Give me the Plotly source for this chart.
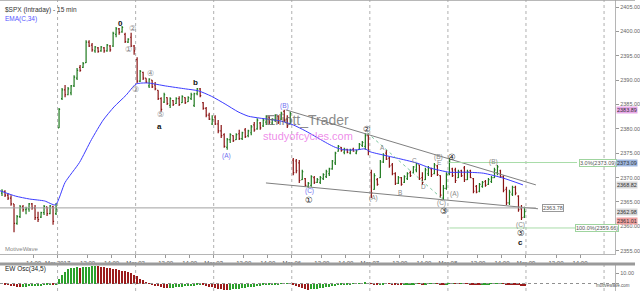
import plotly.graph_objects as go

# ---------------- data ----------------
# 15-min bars (open, high, low, close); Feb 28 partial session, then full sessions of 26 bars
feb28 = [(2366.8,2367.6,2366.2,2367.2),(2367.2,2367.4,2366.0,2366.4),(2366.4,2366.8,2365.4,2365.8),
         (2365.8,2366.4,2364.2,2364.6),(2364.6,2364.6,2358.8,2360.6),(2360.6,2362.3,2360.3,2362.0),
         (2362.0,2364.4,2361.7,2364.0),(2364.0,2364.4,2363.0,2363.4),(2363.4,2364.0,2362.5,2363.6),
         (2363.6,2364.8,2363.0,2364.6),(2364.6,2364.8,2363.4,2363.8),(2363.8,2364.4,2361.3,2361.8),
         (2361.8,2363.0,2360.9,2361.4),(2361.9,2363.0,2361.7,2362.8),(2362.8,2364.4,2362.3,2364.1),
         (2364.0,2364.0,2362.1,2362.6),(2362.6,2364.4,2362.5,2364.2),(2364.0,2364.2,2360.3,2361.0),
         (2362.6,2364.8,2362.3,2363.6)]
mar01 = [(2380.2,2384.3,2380.2,2384.0),(2386.2,2388.4,2385.9,2388.0),(2388.0,2389.0,2386.5,2387.0),
         (2387.0,2388.6,2386.9,2388.2),(2387.4,2389.0,2386.9,2388.8),(2388.8,2391.0,2388.6,2390.6),
         (2390.4,2392.5,2390.0,2392.0),(2392.6,2393.1,2391.7,2392.0),(2392.6,2393.7,2392.5,2393.4),
         (2393.6,2398.2,2393.5,2397.8),(2397.8,2398.2,2396.8,2397.0),(2397.2,2397.6,2395.8,2396.2),
         (2396.0,2397.0,2395.6,2396.8),(2396.6,2396.8,2395.6,2395.9),(2396.0,2397.0,2395.8,2396.8),
         (2396.6,2396.8,2395.6,2396.0),(2396.0,2397.4,2395.8,2397.2),(2397.0,2397.2,2395.8,2396.2),
         (2397.0,2399.9,2396.8,2399.6),(2399.4,2400.9,2398.8,2400.5),(2400.5,2400.7,2399.3,2399.8),
         (2399.9,2401.1,2399.7,2400.8),(2399.4,2399.7,2397.6,2397.9),(2397.8,2398.6,2397.6,2398.4),
         (2398.8,2399.7,2396.8,2397.0),(2397.0,2397.2,2395.2,2396.0)]
mar02 = [(2394.2,2394.7,2389.4,2389.8),(2389.8,2392.1,2389.6,2391.8),(2391.6,2391.7,2390.0,2390.4),
         (2390.4,2390.4,2389.4,2389.6),(2388.8,2390.4,2388.4,2390.2),(2390.0,2390.0,2388.4,2388.6),
         (2389.0,2389.6,2387.9,2388.2),(2387.9,2387.9,2385.9,2386.2),(2386.2,2386.5,2383.5,2384.0),
         (2385.5,2387.4,2385.3,2387.0),(2386.4,2386.5,2384.9,2385.2),(2384.8,2386.5,2384.3,2386.2),
         (2385.8,2385.9,2384.7,2385.0),(2385.2,2386.5,2385.1,2386.2),(2386.2,2386.7,2384.7,2385.0),
         (2385.4,2386.9,2385.3,2386.6),(2386.4,2386.5,2385.1,2385.4),(2385.6,2386.7,2385.5,2386.4),
         (2386.2,2387.4,2385.9,2387.0),(2384.8,2387.4,2384.5,2387.2),(2387.2,2388.4,2386.9,2388.2),
         (2388.2,2388.4,2386.5,2386.8),(2385.4,2385.5,2383.9,2384.2),(2384.2,2384.5,2382.4,2382.8),
         (2382.8,2383.3,2381.8,2382.0),(2381.0,2382.8,2380.8,2381.9)]
mar03 = [(2382.4,2382.8,2380.8,2381.0),(2381.0,2381.8,2379.1,2379.6),(2379.6,2380.8,2378.1,2378.6),
         (2378.8,2379.1,2376.1,2376.4),(2376.2,2378.1,2375.7,2377.8),(2377.8,2379.1,2377.1,2378.8),
         (2378.6,2378.7,2377.3,2377.6),(2377.8,2379.1,2377.7,2378.8),(2379.0,2379.8,2377.7,2378.0),
         (2378.0,2379.4,2377.7,2379.2),(2379.8,2380.2,2378.1,2378.4),(2378.6,2379.8,2378.3,2379.6),
         (2379.2,2380.8,2378.7,2380.4),(2380.8,2381.4,2379.4,2379.8),(2380.0,2382.2,2379.8,2381.8),
         (2381.2,2381.4,2379.8,2380.2),(2380.6,2382.2,2380.4,2381.8),(2381.4,2382.8,2380.8,2382.6),
         (2382.4,2382.6,2381.0,2381.4),(2381.2,2382.2,2380.8,2382.0),(2381.8,2383.0,2381.4,2382.8),
         (2382.6,2382.8,2381.0,2381.4),(2382.0,2383.5,2381.8,2383.2),(2383.6,2383.9,2381.4,2381.8),
         (2382.0,2382.8,2380.2,2380.6),(2381.0,2383.5,2381.0,2383.1)]
mar06 = [(2373.6,2374.0,2370.5,2371.0),(2373.4,2373.8,2370.9,2371.4),(2373.0,2373.6,2368.9,2369.4),
         (2369.6,2371.6,2369.5,2371.2),(2369.8,2369.9,2368.1,2368.4),(2368.2,2369.1,2367.9,2368.8),
         (2368.4,2370.5,2368.1,2370.2),(2370.0,2370.3,2368.7,2369.0),(2369.0,2369.9,2368.9,2369.6),
         (2369.0,2370.3,2368.7,2370.0),(2369.8,2370.9,2369.5,2370.6),(2370.2,2371.6,2369.9,2371.2),
         (2370.8,2372.0,2370.3,2371.8),(2371.8,2373.6,2371.6,2373.4),(2373.0,2375.3,2372.6,2375.0),
         (2375.4,2376.7,2375.3,2376.4),(2376.2,2376.3,2375.3,2375.6),(2375.2,2376.1,2374.8,2375.8),
         (2375.8,2375.9,2375.0,2375.2),(2375.0,2375.9,2374.8,2375.6),(2375.8,2376.1,2375.3,2375.4),
         (2375.0,2375.7,2374.8,2375.5),(2375.8,2377.1,2375.7,2376.8),(2376.6,2377.5,2376.3,2377.2),
         (2376.4,2379.1,2375.7,2378.6),(2378.6,2379.1,2374.6,2375.3)]
mar07 = [(2371.0,2371.6,2365.8,2366.8),(2367.6,2370.9,2367.5,2370.4),(2369.6,2369.9,2368.3,2368.6),
         (2370.0,2373.6,2369.9,2373.2),(2373.2,2375.0,2373.0,2374.6),(2375.0,2375.7,2373.6,2373.8),
         (2374.0,2374.2,2372.0,2372.4),(2372.6,2373.0,2370.5,2370.8),(2370.8,2371.1,2368.5,2368.8),
         (2368.8,2370.3,2368.7,2370.0),(2370.0,2370.1,2368.3,2368.6),(2369.0,2370.5,2368.9,2370.2),
         (2369.8,2371.1,2369.5,2370.8),(2371.0,2371.4,2370.1,2370.4),(2371.0,2372.4,2370.9,2372.2),
         (2371.6,2373.0,2371.1,2372.8),(2372.6,2372.6,2369.5,2369.8),(2370.0,2371.1,2368.5,2369.0),
         (2369.6,2372.0,2369.5,2371.6),(2370.8,2372.4,2370.3,2372.0),(2371.8,2372.0,2370.1,2370.6),
         (2370.8,2373.0,2370.7,2372.6),(2372.4,2372.6,2370.3,2370.6),(2370.4,2370.5,2365.8,2366.4),
         (2365.8,2368.5,2365.4,2367.8),(2367.8,2371.1,2367.5,2370.6)]
mar08 = [(2370.8,2374.0,2370.5,2373.4),(2371.8,2372.0,2370.1,2370.4),(2371.6,2372.0,2368.9,2369.4),
         (2370.0,2371.6,2369.9,2371.2),(2371.4,2371.6,2370.1,2370.4),(2372.0,2372.4,2369.1,2369.6),
         (2369.6,2371.6,2369.5,2371.2),(2371.4,2371.6,2369.9,2370.0),(2369.8,2369.9,2366.8,2367.2),
         (2368.2,2368.5,2366.8,2367.0),(2367.2,2368.9,2367.0,2368.6),(2368.2,2369.3,2367.9,2369.0),
         (2369.2,2369.5,2368.1,2368.4),(2368.6,2369.9,2368.5,2369.6),(2369.2,2370.3,2368.9,2370.0),
         (2370.0,2372.0,2369.9,2371.6),(2371.0,2372.6,2370.5,2372.2),(2371.4,2371.6,2369.9,2370.2),
         (2370.2,2370.5,2367.0,2367.4),(2367.6,2368.1,2364.4,2364.8),(2364.8,2367.5,2364.4,2367.0),
         (2366.6,2368.3,2366.2,2368.0),(2368.0,2368.3,2366.4,2366.8),(2366.2,2366.4,2363.0,2363.4),
         (2363.6,2364.4,2361.3,2361.8),(2361.9,2364.0,2361.7,2363.0)]
sessions = [feb28, mar01, mar02, mar03, mar06, mar07, mar08]

# EMA(C,34) read at sample bar positions (bar number from Mar 01 open)
ema_bar = [-19.7, -14.5, -9.8, -4.8, -1.2, 2, 6.8, 10.8, 14.7, 18.3, 22.3, 25.6, 27.6, 29.9, 35.5, 42.1,
           46.4, 50.7, 55.3, 59.6, 63, 66.9, 73.9, 78, 82, 86, 89.4, 92, 95, 99.3, 101.9, 103.6, 108.2,
           112.5, 119.1, 123.4, 130, 135.7, 141.3, 147.9, 154.5]
ema_val = [2367.3, 2366.2, 2365.6, 2365.2, 2364.4, 2369.0, 2373.1, 2377.8, 2381.8, 2384.5, 2386.9,
           2389.2, 2389.4, 2389.4, 2388.8, 2388.2, 2387.8, 2386.7, 2385.1, 2383.5, 2382.6, 2382.2,
           2381.6, 2380.8, 2379.6, 2378.2, 2377.0, 2376.2, 2375.7, 2375.7, 2375.9, 2375.3, 2374.6,
           2374.0, 2373.0, 2372.0, 2371.1, 2371.1, 2370.9, 2369.9, 2368.5]

# EW Osc(34,5) per bar
osc_feb28 = [-0.4,-0.8,-1.4,-2.0,-2.8,-3.5,-3.6,-3.3,-3.0,-2.7,-2.4,-2.2,-2.2,-2.1,-1.9,-1.8,-1.7,-1.8,-1.6]
osc_mar01 = [4.9,8.4,11.6,14.2,15.6,16.0,16.1,15.9,16.3,16.7,17.0,17.4,17.8,17.4,17.0,16.4,15.8,15.1,
             14.9,14.4,13.7,13.0,12.3,11.3,10.2,8.9]
osc_mar02 = [7.2,4.8,3.1,1.4,-0.3,-1.2,-2.0,-2.8,-3.5,-4.0,-4.3,-4.2,-4.0,-3.8,-3.5,-3.2,-2.9,-2.6,
             -2.3,-2.0,-1.7,-1.5,-1.7,-2.3,-3.0,-3.8]
osc_mar03 = [-4.6,-5.2,-5.8,-6.3,-6.5,-6.2,-5.8,-5.4,-5.0,-4.6,-4.2,-3.8,-3.4,-3.0,-2.6,-2.2,-1.9,
             -1.6,-1.3,-1.0,-0.8,-0.6,-0.4,-0.2,0.1,0.4]
osc_mar06 = [-1.2,-2.5,-3.8,-4.8,-5.6,-6.0,-5.8,-5.4,-5.0,-4.6,-4.2,-3.8,-3.4,-2.9,-2.4,-1.9,-1.5,
             -1.2,-0.9,-0.7,-0.5,-0.3,-0.1,0.2,0.6,0.4]
osc_mar07 = [-0.3,-0.8,-1.2,-1.0,-0.6,-0.3,-0.4,-0.6,-0.9,-1.2,-1.4,-1.3,-1.1,-0.9,-0.6,-0.4,-0.5,
             -0.7,-0.6,-0.4,-0.3,-0.2,-0.3,-0.7,-1.1,-0.9]
osc_mar08 = [-0.5,-0.2,-0.3,-0.4,-0.3,-0.4,-0.5,-0.6,-0.9,-1.2,-1.3,-1.2,-1.0,-0.8,-0.5,-0.2,0.2,0.3,
             -0.1,-0.6,-1.0,-1.3,-1.5,-1.9,-2.4,-2.6]
osc_sessions = [osc_feb28, osc_mar01, osc_mar02, osc_mar03, osc_mar06, osc_mar07, osc_mar08]

day_ticks = ["Mar 2017", "Mar 02", "Mar 03", "Mar 06", "Mar 07", "Mar 08", "Mar 09"]
hour_ticks = ["12:00", "14:00"]
price_ticks = [2355, 2360, 2365, 2370, 2375, 2380, 2385, 2390, 2395, 2400, 2405]

# wave labels: (text, bar, price, kind)
wave_labels = [
    ("0", 20.6, 2401.6, "bold"), ("\u2460", 23.2, 2396.3, "gray"), ("\u2461", 24.3, 2400.5, "gray"),
    ("\u2462", 25.6, 2388.0, "gray"), ("\u2463", 30.6, 2391.3, "gray"), ("\u2464", 33.9, 2383.0, "gray"),
    ("a", 33.5, 2380.4, "bold"), ("b", 45.4, 2389.6, "bold"),
    ("(A)", 55.7, 2374.5, "blue"), ("(B)", 75.2, 2384.7, "blue"), ("(C)", 83.4, 2367.2, "blue"),
    ("\u2460", 83.4, 2365.4, "circ"), ("\u2461", 102.6, 2380.0, "circ"),
    ("(A)", 104.6, 2365.9, "small"), ("A", 107.6, 2376.1, "small"), ("B", 113.5, 2367.0, "small"),
    ("C", 118.5, 2373.6, "small"), ("D", 121.4, 2368.1, "small"), ("(B)", 126.4, 2374.3, "small"),
    ("E", 126.7, 2373.0, "small"), ("\u2463", 130.7, 2374.3, "circ"),
    ("(C)", 127.4, 2364.8, "small"), ("\u2462", 128.1, 2363.1, "circ"), ("(A)", 131.7, 2366.6, "small"),
    ("(B)", 144.6, 2373.1, "small"), ("(C)", 153.8, 2360.3, "small"), ("\u2464", 153.8, 2358.7, "circ"),
    ("c", 153.8, 2356.6, "bold"),
]

# trend lines (bar, price) pairs and levels
upper_line = [(75.5, 2383.9), (158.8, 2368.5)]
lower_line = [(68.9, 2368.9), (159.5, 2363.6)]
ab_line = [(102.6, 2379.2), (128.1, 2365.4)]
level_line = 2363.78
fib_levels = [(2373.09, "3.0%(2373.09)"), (2359.66, "100.0%(2359.66)")]
axis_tags = [(2383.89, "2383.89", "#e8a8e8"), (2373.09, "2373.09", "#9fb8e0"),
             (2368.5, "2368.82", "#d8d8d8"), (2363.0, "2362.98", "#d8d8d8"),
             (2361.01, "2361.01", "#f0a0a0")]

# ---------------- build ----------------
GREEN = "#1f7a1f"
RED = "#8a1414"
FONT = "Liberation Sans"

xs, o, h, l, c = [], [], [], [], []
start = -len(feb28)
for si, sess in enumerate(sessions):
    base = start if si == 0 else (si - 1) * 26
    for k, (oo, hh, ll, cc) in enumerate(sess):
        xs.append(base + k); o.append(oo); h.append(hh); l.append(ll); c.append(cc)

osc_x, osc_y = [], []
for si, sess in enumerate(osc_sessions):
    base = start if si == 0 else (si - 1) * 26
    for k, v in enumerate(sess):
        osc_x.append(base + k); osc_y.append(v)
osc_col = ["#2ca02c" if i == 0 or osc_y[i] >= osc_y[i - 1] else "#9b1c1c" for i in range(len(osc_y))]

X0, X1 = -19.67, 185.2
Y0, Y1 = 2354.32, 2406.44
fig = go.Figure()

fig.add_trace(go.Ohlc(x=xs, open=o, high=h, low=l, close=c, xaxis="x", yaxis="y",
                      increasing=dict(line=dict(color=GREEN, width=1.2)),
                      decreasing=dict(line=dict(color=RED, width=1.2)),
                      tickwidth=0.35, showlegend=False, hoverinfo="skip"))
fig.add_trace(go.Scatter(x=ema_bar, y=ema_val, mode="lines", xaxis="x", yaxis="y",
                         line=dict(color="#3b3bff", width=1, shape="spline", smoothing=0.6),
                         showlegend=False, hoverinfo="skip"))
fig.add_trace(go.Bar(x=osc_x, y=osc_y, marker=dict(color=osc_col, line=dict(width=0)), width=0.75,
                     xaxis="x2", yaxis="y2", showlegend=False, hoverinfo="skip"))

for ln, col, dash, w in [(upper_line, "#808080", "solid", 1), (lower_line, "#808080", "solid", 1),
                         (ab_line, "#7fc7a0", "dot", 1)]:
    fig.add_trace(go.Scatter(x=[p[0] for p in ln], y=[p[1] for p in ln], mode="lines",
                             line=dict(color=col, width=w, dash=dash), xaxis="x", yaxis="y",
                             showlegend=False, hoverinfo="skip"))

shapes = []
for d in range(-1, 9):
    xv = d * 26 - 0.5
    if X0 < xv < X1:
        for yr in ("y domain", "y2 domain"):
            shapes.append(dict(type="line", xref="x", yref=yr, x0=xv, x1=xv, y0=0, y1=1,
                               line=dict(color="#b0b0b0", width=1, dash="dot"), layer="below"))
shapes.append(dict(type="line", xref="x", yref="y", x0=X0, x1=158.8, y0=level_line, y1=level_line,
                   line=dict(color="#a0a0a0", width=1)))
for lv, _ in fib_levels:
    shapes.append(dict(type="line", xref="x", yref="y", x0=130.0, x1=172.5, y0=lv, y1=lv,
                       line=dict(color="#a8dca8", width=1)))
shapes.append(dict(type="line", xref="x2", yref="y2", x0=X0, x1=X1, y0=0, y1=0,
                   line=dict(color="#909090", width=1, dash="dot")))
shapes.append(dict(type="rect", xref="paper", yref="paper", x0=0, x1=1, y0=1 - 262.5 / 291, y1=1 - 265.5 / 291,
                   fillcolor="#9a9a9a", line=dict(width=0)))
shapes.append(dict(type="line", xref="paper", yref="paper", x0=0, x1=1, y0=1, y1=1,
                   line=dict(color="#a0a0a0", width=1.5)))

ann = []
def add(text, x, y, size=6, color="#333", xref="x", yref="y", family=FONT, **kw):
    d = dict(text=text, x=x, y=y, xref=xref, yref=yref, showarrow=False,
             font=dict(family=family, size=size, color=color))
    d.update(kw)
    ann.append(d)

styles = {"bold": dict(size=8, color="#111"), "gray": dict(size=8, color="#8a8a8a"),
          "blue": dict(size=6.5, color="#6f6ff0"), "circ": dict(size=8.5, color="#222"),
          "small": dict(size=6.5, color="#8a8a8a")}
for t, bx, py, kind in wave_labels:
    st = styles[kind]
    txt = "<b>%s</b>" % t if kind == "bold" else t
    add(txt, bx, py, size=st["size"], color=st["color"],
        family="DejaVu Sans" if kind in ("gray", "circ") else FONT)

add("2363.78", 164.4, level_line, size=5.5, color="#555", bordercolor="#999", borderwidth=1, borderpad=0,
    bgcolor="white")
add(fib_levels[0][1], 179.5, fib_levels[0][0], size=5.5, color="#555", bordercolor="#9fd49f", borderwidth=1,
    borderpad=0, bgcolor="white")
add(fib_levels[1][1], 179.0, fib_levels[1][0], size=5.5, color="#555", bordercolor="#9fd49f", borderwidth=1,
    borderpad=0, bgcolor="white")

# watermark
add("Elliott_Trader", 82.8, 2381.8, size=14, color="rgba(110,110,110,0.8)")
add("studyofcycles.com", 82.8, 2378.6, size=11, color="rgba(235,120,230,0.85)")

add("$SPX (Intraday) - 15 min", 0.005, 0.985, size=6.5, color="#333", xref="paper", yref="paper",
    xanchor="left", yanchor="top")
add("EMA(C,34)", 0.005, 0.955, size=6.5, color="#5555ff", xref="paper", yref="paper",
    xanchor="left", yanchor="top")
add("MotiveWave", 0.005, 1 - 249 / 291, size=6, color="#888", xref="paper", yref="paper",
    xanchor="left", yanchor="middle")
add("EW Osc(34,5)", 0.005, 1 - 268.5 / 291, size=6.5, color="#222", xref="paper", yref="paper",
    xanchor="left", yanchor="middle")
add("motivewave.com", 0.995, 0.002, size=4.5, color="#555", xref="paper", yref="paper",
    xanchor="right", yanchor="bottom")
for val, txt, bg in axis_tags:
    add(txt, 0.9703, val, size=5.5, color="#333", xref="paper", yref="y", xanchor="left",
        bgcolor=bg, borderpad=0)

tickvals, ticktext = [], []
tickvals.append(-26 + 17.5); ticktext.append("14:00")
for d, lab in enumerate(day_ticks):
    tickvals.append(d * 26 - 0.5); ticktext.append(lab)
    tickvals.append(d * 26 + 9.5); ticktext.append(hour_ticks[0])
    tickvals.append(d * 26 + 17.5); ticktext.append(hour_ticks[1])

dom_x = [0, 620 / 640]
fig.update_layout(
    width=640, height=291, margin=dict(l=0, r=0, t=0, b=0),
    paper_bgcolor="white", plot_bgcolor="white",
    font=dict(family=FONT, size=6, color="#555"),
    bargap=0,
    shapes=shapes, annotations=ann,
    xaxis=dict(domain=dom_x, range=[X0, X1], anchor="y", tickvals=tickvals, ticktext=ticktext,
               showgrid=False, zeroline=False, showline=True, linecolor="#b5b5b5", linewidth=1,
               ticks="outside", ticklen=3, tickcolor="#999", tickfont=dict(size=6, color="#555"),
               rangeslider=dict(visible=False)),
    yaxis=dict(domain=[1 - 254 / 291, 1], range=[Y0, Y1], side="right", anchor="x",
               tickvals=price_ticks, tickformat=".2f", showgrid=False, zeroline=False, showline=True,
               linecolor="#b5b5b5", ticks="outside", ticklen=3, tickcolor="#999",
               tickfont=dict(size=5.5, color="#666")),
    xaxis2=dict(domain=dom_x, range=[X0, X1], anchor="y2", matches="x", showticklabels=False,
                showgrid=False, zeroline=False, showline=False),
    yaxis2=dict(domain=[0, 26 / 291], range=[-7.5, 18.5], side="right", anchor="x2",
                tickvals=[10, 0], ticktext=["10.00", ""], showgrid=False, zeroline=False,
                showline=True, linecolor="#b5b5b5", ticks="outside", ticklen=3, tickcolor="#999",
                tickfont=dict(size=5.5, color="#666")),
)
fig.write_html("out.html")
